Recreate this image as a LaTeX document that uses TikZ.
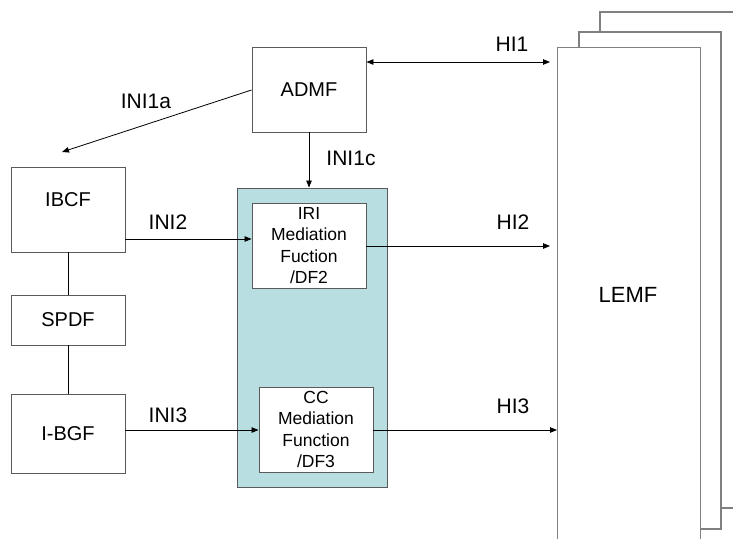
\documentclass[tikz,border=0pt]{standalone}
\usepackage{fontspec}
\setmainfont{Liberation Sans}
\usetikzlibrary{arrows.meta}
\definecolor{teal1}{RGB}{184,222,226}
\definecolor{edge}{RGB}{90,90,90}
\tikzset{
  box/.style={draw=edge, line width=0.9pt, fill=white, inner sep=0pt, align=center},
  lbl/.style={font=\fontsize{20}{24}\selectfont, inner sep=0pt},
  ilbl/.style={font=\fontsize{21}{24}\selectfont, inner sep=0pt},
  inner/.style={box, font=\fontsize{17.5}{21.5}\selectfont},
  arr/.style={line width=0.8pt, -{Triangle[length=7pt,width=5.5pt]}},
  plain/.style={line width=0.8pt},
  lemf/.style={draw=gray, line width=1.1pt, fill=white}
}
\begin{document}
\begin{tikzpicture}[x=1pt,y=-1pt]
\useasboundingbox (0,0) rectangle (733,538);
\clip (0,0) rectangle (733,538);
% LEMF stack
\draw[lemf] (600,12) rectangle (745,508);
\draw[lemf] (579,32) rectangle (721,529);
\node[lemf, minimum width=143pt, minimum height=520pt, anchor=north west, inner sep=0pt] (lemf) at (557,47) {};
\node[font=\fontsize{22}{26}\selectfont, inner sep=0pt] (lemft) at (628,295) {LEMF};
% ADMF
\node[box, lbl, minimum width=114pt, minimum height=85pt] (admf) at (309,89.5) {ADMF};
% left column
\node[box, minimum width=114pt, minimum height=85pt] (ibcf) at (68,209.5) {};
\node[lbl] (ibcft) at (68,200) {IBCF};
\node[box, lbl, minimum width=114pt, minimum height=50pt] (spdf) at (68,320) {SPDF};
\node[box, lbl, minimum width=114pt, minimum height=79pt] (ibgf) at (68,433.5) {I-BGF};
\draw[plain] (ibcf.south) -- (spdf.north);
\draw[plain] (spdf.south) -- (ibgf.north);
% mediation container
\node[draw=edge, line width=0.9pt, fill=teal1, minimum width=150pt, minimum height=299pt, inner sep=0pt] (med) at (312,337.5) {};
\node[inner, minimum width=114pt, minimum height=85pt] (iri) at (309,245.5) {IRI\\Mediation\\Fuction\\/DF2};
\node[inner, minimum width=114pt, minimum height=85pt] (cc) at (316,429.5) {CC\\Mediation\\Function\\/DF3};
% connectors
\coordinate (a1) at (62,152);
\draw[arr] (admf.west |- 0,90) -- (a1);
\node[ilbl] (ini1a) at (146,101) {INI1a};
\draw[arr] (admf.south) -- (admf.south |- med.north);
\node[ilbl] (ini1c) at (351,158) {INI1c};
\draw[arr, {Triangle[length=7pt,width=5.5pt]}-{Triangle[length=7pt,width=5.5pt]}] (admf.east |- 0,62) -- (550,62);
\node[ilbl] (hi1) at (512,44.5) {HI1};
\draw[arr] (ibcf.east |- 0,239) -- (iri.west |- 0,239);
\node[ilbl] (ini2) at (168,222) {INI2};
\draw[arr] (ibgf.east |- 0,430) -- (cc.west |- 0,430);
\node[ilbl] (ini3) at (168,415) {INI3};
\draw[arr] (iri.east |- 0,246) -- (550,246);
\node[ilbl] (hi2) at (513,222) {HI2};
\draw[arr] (cc.east |- 0,430) -- (lemf.west |- 0,430);
\node[ilbl] (hi3) at (513,406) {HI3};
\end{tikzpicture}
\end{document}
